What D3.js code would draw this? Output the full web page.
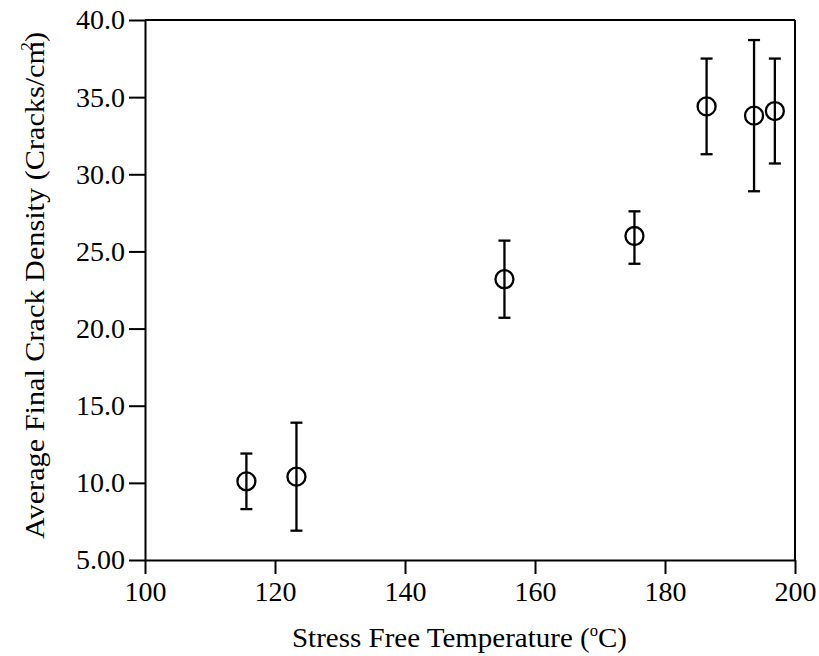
<!DOCTYPE html>
<html>
<head>
<meta charset="utf-8">
<script src="https://cdn.jsdelivr.net/npm/d3@7"></script>
<style>
    body { margin: 0; background: #fff; }
    svg text { font-family: "Liberation Serif", "Times New Roman", serif; fill: #000; }
    .axis path, .axis line { stroke: #000; stroke-width: 2; }
</style>
</head>
<body>
<div id="chart"></div>
<script>
// data
const temps = [115.6, 123.3, 155.3, 175.3, 186.4, 193.7, 196.9];
const density = [10.1, 10.4, 23.2, 26.0, 34.4, 33.8, 34.1];
const errLow = [8.3, 6.9, 20.7, 24.2, 31.3, 28.9, 30.7];
const errHigh = [11.9, 13.9, 25.7, 27.6, 37.5, 38.7, 37.5];

const xTicks = [100, 120, 140, 160, 180, 200];
const yTicks = [5, 10, 15, 20, 25, 30, 35, 40];
const yTickLabels = ["5.00", "10.0", "15.0", "20.0", "25.0", "30.0", "35.0", "40.0"];

const W = 819, H = 656;
const margin = {top: 20, right: 24, bottom: 96, left: 145};

let svg = d3.select("#chart").append("svg")
    .attr("width", W)
    .attr("height", H);

let x = d3.scaleLinear().domain([100, 200]).range([margin.left, W - margin.right]);
let y = d3.scaleLinear().domain([5, 40]).range([H - margin.bottom, margin.top]);

// frame: top and right border
svg.append("line")
    .attr("x1", x(100)).attr("x2", x(200))
    .attr("y1", y(40)).attr("y2", y(40))
    .attr("stroke", "#000").attr("stroke-width", 2);
svg.append("line")
    .attr("x1", x(200)).attr("x2", x(200))
    .attr("y1", y(40)).attr("y2", y(5))
    .attr("stroke", "#000").attr("stroke-width", 2);

let xAxis = svg.append("g")
    .attr("class", "axis")
    .attr("transform", "translate(0," + y(5) + ")")
    .call(d3.axisBottom(x).tickValues(xTicks).tickSize(14).tickSizeOuter(0).tickPadding(7));
xAxis.selectAll("text").style("font-size", "28px");

let yAxis = svg.append("g")
    .attr("class", "axis")
    .attr("transform", "translate(" + x(100) + ",0)")
    .call(d3.axisLeft(y).tickValues(yTicks).tickSize(16).tickSizeOuter(0).tickPadding(4)
        .tickFormat((d, i) => yTickLabels[i]));
yAxis.selectAll("text").style("font-size", "28px");

// error bars
let pts = temps.map((t, i) => ({t: t, v: density[i], lo: errLow[i], hi: errHigh[i]}));
let capW = 6;

let bars = svg.append("g").attr("stroke", "#000").attr("stroke-width", 2.3);
bars.selectAll(".stem").data(pts).enter().append("line")
    .attr("class", "stem")
    .attr("x1", d => x(d.t)).attr("x2", d => x(d.t))
    .attr("y1", d => y(d.lo)).attr("y2", d => y(d.hi));
bars.selectAll(".capHi").data(pts).enter().append("line")
    .attr("class", "capHi")
    .attr("x1", d => x(d.t) - capW).attr("x2", d => x(d.t) + capW)
    .attr("y1", d => y(d.hi)).attr("y2", d => y(d.hi));
bars.selectAll(".capLo").data(pts).enter().append("line")
    .attr("class", "capLo")
    .attr("x1", d => x(d.t) - capW).attr("x2", d => x(d.t) + capW)
    .attr("y1", d => y(d.lo)).attr("y2", d => y(d.lo));

// open circle markers
svg.append("g").selectAll("circle").data(pts).enter().append("circle")
    .attr("cx", d => x(d.t))
    .attr("cy", d => y(d.v))
    .attr("r", 9)
    .attr("fill", "none")
    .attr("stroke", "#000")
    .attr("stroke-width", 2.3);

// axis titles
let xt = svg.append("text")
    .attr("x", 292)
    .attr("y", 647)
    .attr("textLength", 335)
    .attr("lengthAdjust", "spacingAndGlyphs")
    .style("font-size", "28px");
xt.append("tspan").text("Stress Free Temperature (");
xt.append("tspan").attr("dy", -11).style("font-size", "16px").text("o");
xt.append("tspan").attr("dy", 11).text("C)");

let yt = svg.append("text")
    .attr("transform", "translate(44,539) rotate(-90)")
    .attr("textLength", 507)
    .attr("lengthAdjust", "spacingAndGlyphs")
    .style("font-size", "28px");
yt.append("tspan").text("Average Final Crack Density (Cracks/cm");
yt.append("tspan").attr("dy", -12).attr("dx", -9).style("font-size", "16px").text("2");
yt.append("tspan").attr("dy", 12).text(")");
</script>
</body>
</html>
